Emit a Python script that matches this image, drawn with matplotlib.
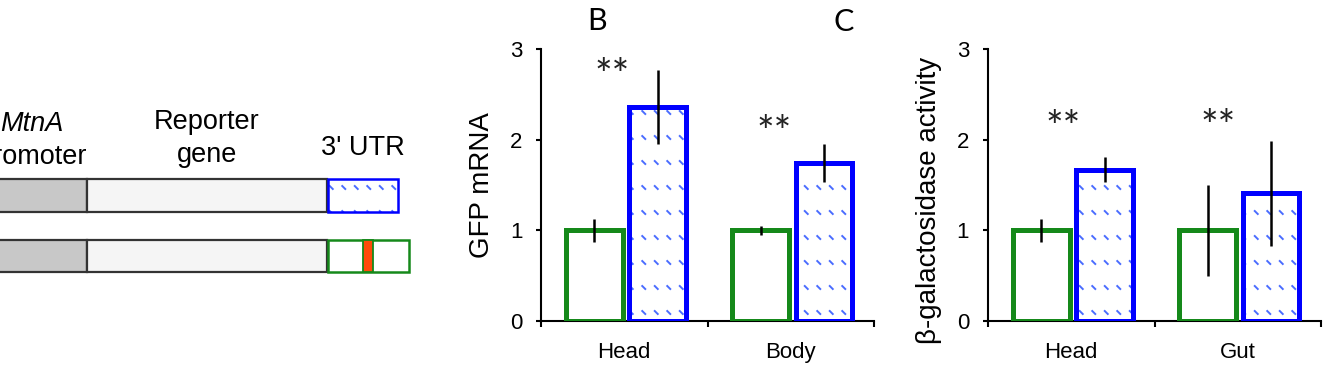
import numpy as np
import matplotlib
matplotlib.use("Agg")
import matplotlib.pyplot as plt
import matplotlib.hatch as mhatch
import matplotlib.transforms as mtransforms
from matplotlib.path import Path
from matplotlib.patches import Rectangle

# ---------------- data ----------------
b_categories = ["Head", "Body"]
b_control = [1.0, 1.0]
b_control_err = [0.13, 0.05]
b_utr = [2.36, 1.74]
b_utr_err = [0.41, 0.21]
b_star_x = [0.43, 1.40]
b_star_y = [2.81, 2.18]

c_categories = ["Head", "Gut"]
c_control = [1.0, 1.0]
c_control_err = [0.13, 0.50]
c_utr = [1.67, 1.41]
c_utr_err = [0.14, 0.58]
c_star_x = [0.45, 1.38]
c_star_y = [2.24, 2.25]

y_ticks = [0, 1, 2, 3]

# schematic segments (pixel units of the left panel)
promoter_span = [-10, 87]
reporter_span = [87, 327]
utr_blue_span = [328, 398]
utr_green_span = [328, 409]
element_span = [363, 373]
row1_span = [179, 212]
row2_span = [240, 272]

GREEN = "#15891a"
BLUE = "#0000ff"
HATCH_BLUE = "#4a6cff"

# ---------------- custom hatch: grid of short diagonal dashes ----------------
NX, NY = 8, 4


class DashGrid(mhatch.HatchPatternBase):
    def __init__(self, hatch, density):
        self.num_vertices = 2 * NX * NY if "." in hatch else 0

    def set_vertices_and_codes(self, vertices, codes):
        d = 0.015
        xs = (np.arange(NX) + 0.5) / NX
        ys = (np.arange(NY) + 0.5) / NY
        gx, gy = np.meshgrid(xs, ys)
        gx = gx.ravel()
        gy = gy.ravel()
        vertices[0::2, 0] = gx - d
        vertices[0::2, 1] = gy + d
        vertices[1::2, 0] = gx + d
        vertices[1::2, 1] = gy - d
        codes[0::2] = Path.MOVETO
        codes[1::2] = Path.LINETO


mhatch._hatch_types = [t for t in mhatch._hatch_types
                       if t is not mhatch.SmallFilledCircles] + [DashGrid]

plt.rcParams["font.family"] = ["Liberation Sans", "DejaVu Sans"]
plt.rcParams["hatch.linewidth"] = 1.4

W, H = 1329, 365
fig = plt.figure(figsize=(W / 100, H / 100), dpi=100)

# ---------------- schematic (panel A) ----------------
ax0 = fig.add_axes([0, 0, 470 / W, 1])
ax0.set_xlim(0, 470)
ax0.set_ylim(H, 0)
ax0.axis("off")


def box(ax, span, row, fc, ec, lw, hatch=None, hatch_ec=None, z=2):
    if hatch:
        ax.add_patch(Rectangle((span[0], row[0]), span[1] - span[0], row[1] - row[0],
                               facecolor=fc, edgecolor=hatch_ec, lw=0, hatch=hatch, zorder=z))
        fc = "none"
    ax.add_patch(Rectangle((span[0], row[0]), span[1] - span[0], row[1] - row[0],
                           facecolor=fc, edgecolor=ec, lw=lw, zorder=z + 0.1))


for row in (row1_span, row2_span):
    box(ax0, promoter_span, row, "#c8c8c8", "#333333", 1.6)
    box(ax0, reporter_span, row, "#f5f5f5", "#333333", 1.6)
box(ax0, utr_blue_span, row1_span, "white", BLUE, 1.8, hatch=".", hatch_ec=HATCH_BLUE)
box(ax0, utr_green_span, row2_span, "white", GREEN, 1.8)
box(ax0, element_span, row2_span, "#ff4a0a", GREEN, 1.3, z=3)

tfs = 19.5
ax0.text(32, 131, "MtnA", style="italic", fontsize=tfs, ha="center", va="baseline")
ax0.text(32, 164, "promoter", fontsize=tfs, ha="center", va="baseline")
ax0.text(207, 129, "Reporter", fontsize=tfs, ha="center", va="baseline")
ax0.text(207, 162, "gene", fontsize=tfs, ha="center", va="baseline")
ax0.text(363, 155, "3' UTR", fontsize=tfs, ha="center", va="baseline")


# ---------------- bar panels ----------------
def bar_panel(left_px, cats, ctrl, ctrl_err, utr, utr_err, star_x, star_y, ylabel, ylab_y):
    ax = fig.add_axes([left_px / W, (H - 321) / H, 333 / W, 272 / H])
    x = np.arange(len(cats)) + 0.5
    w = 0.34
    xg = x - 0.18
    xb = x + 0.20
    ax.bar(xg, ctrl, width=w, facecolor="white", edgecolor=GREEN, linewidth=3.6, zorder=2)
    ax.bar(xb, utr, width=w, facecolor="white", edgecolor=HATCH_BLUE, linewidth=0,
           hatch=".", zorder=2)
    ax.bar(xb, utr, width=w, facecolor="none", edgecolor=BLUE, linewidth=3.6, zorder=2.1)
    ax.errorbar(xg, ctrl, yerr=ctrl_err, fmt="none", ecolor="black", elinewidth=1.8,
                capsize=0, zorder=5)
    ax.errorbar(xb, utr, yerr=utr_err, fmt="none", ecolor="black", elinewidth=1.8,
                capsize=0, zorder=5)
    star_tr = mtransforms.offset_copy(ax.transData, fig=fig, x=0, y=-11, units="dots")
    for sx, sy in zip(star_x, star_y):
        ax.text(sx, sy, "**", fontsize=30, family="Lato", ha="center", va="center",
                color="#222222", transform=star_tr)
    ax.set_xlim(0, len(cats))
    ax.set_ylim(0, 3)
    ax.set_yticks(y_ticks)
    ax.set_yticklabels([str(t) for t in y_ticks], fontsize=16)
    ax.set_xticks(np.arange(len(cats) + 1))
    ax.set_xticklabels([])
    ax.set_xticks(x, minor=True)
    ax.set_xticklabels(cats, minor=True, fontsize=16)
    ax.tick_params(axis="x", which="major", direction="out", length=4.5, width=1.5)
    ax.tick_params(axis="x", which="minor", length=0, pad=15)
    ax.tick_params(axis="y", direction="out", length=3.5, width=1.5, pad=10)
    for s in ("top", "right"):
        ax.spines[s].set_visible(False)
    for s in ("left", "bottom"):
        ax.spines[s].set_linewidth(1.5)
        ax.spines[s].set_zorder(1)
    ax.set_ylabel(ylabel, fontsize=20)
    ax.yaxis.set_label_coords(-0.138, ylab_y)
    ax.patch.set_alpha(0)
    return ax


bar_panel(541, b_categories, b_control, b_control_err, b_utr, b_utr_err,
          b_star_x, b_star_y, "GFP mRNA", 0.5)
bar_panel(988, c_categories, c_control, c_control_err, c_utr, c_utr_err,
          c_star_x, c_star_y, "β-galactosidase activity", 0.445)

fig.text(597 / W, 1 - 21 / H, "B", fontsize=22, family="Lato", ha="center", va="center")
fig.text(844 / W, 1 - 22 / H, "C", fontsize=22, family="Lato", ha="center", va="center")

fig.savefig("out.png", dpi=100)
